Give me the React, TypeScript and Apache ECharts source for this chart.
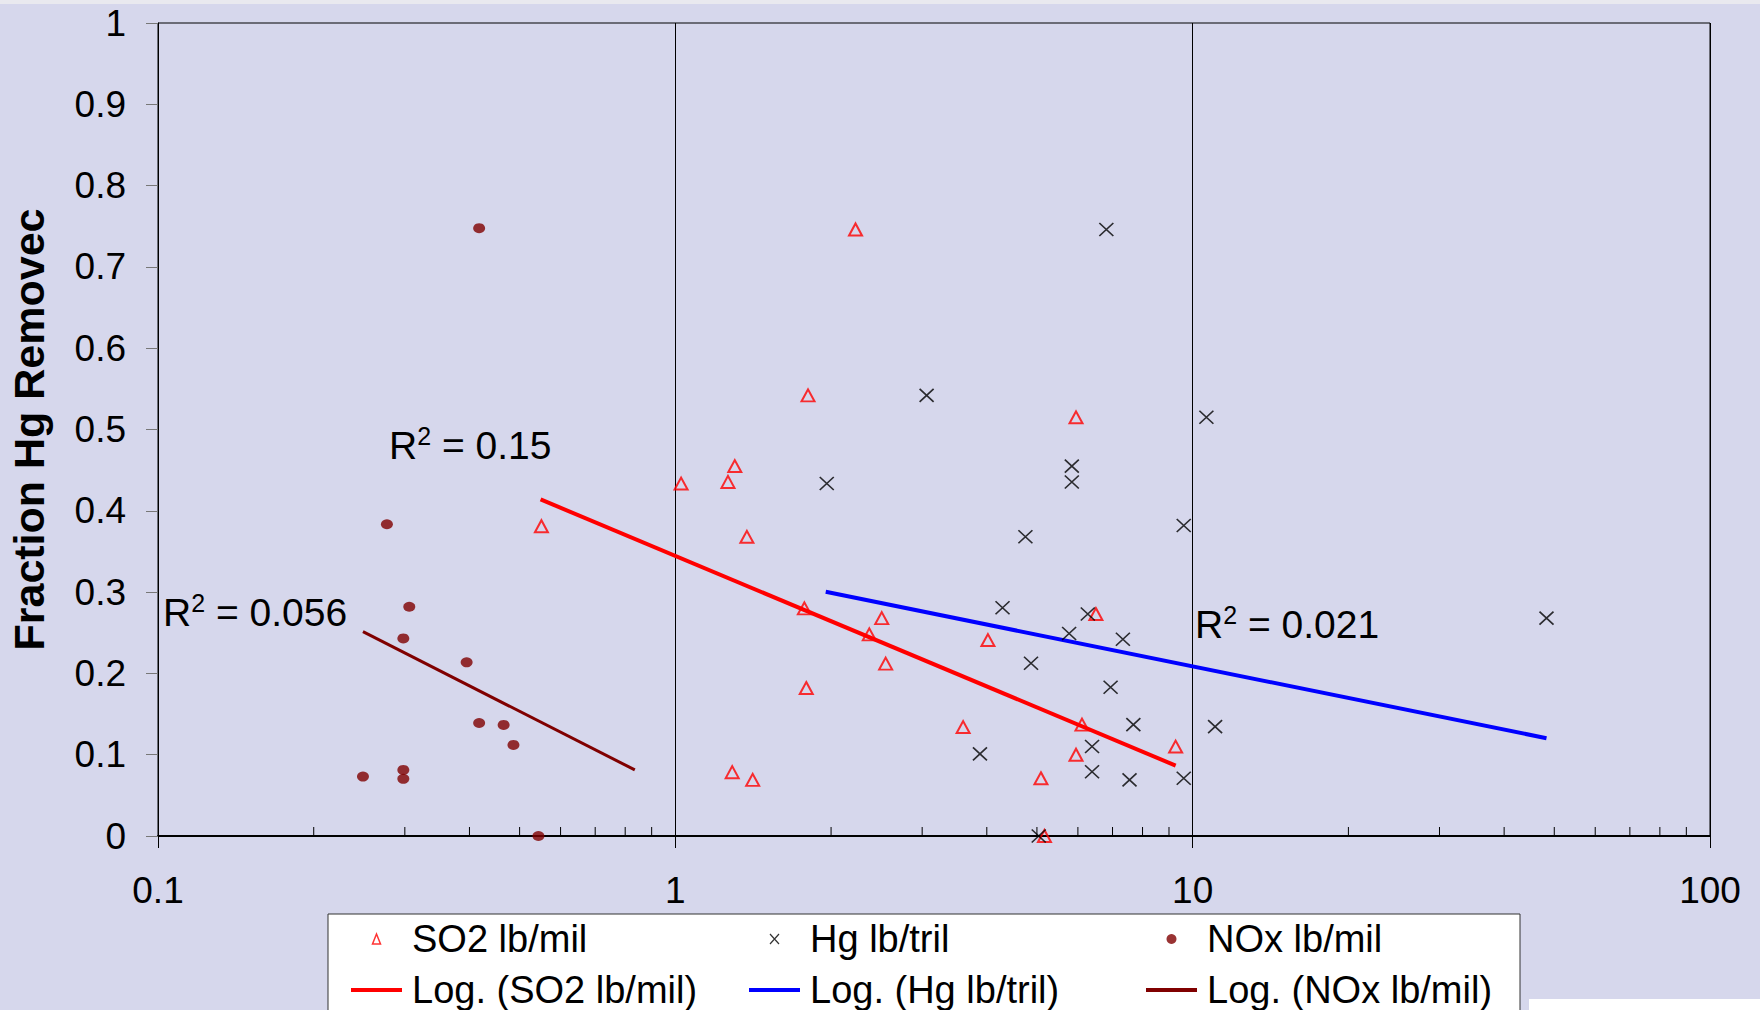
import React, { useEffect, useRef } from "react";
import * as echarts from "echarts";

const FONT = '"Liberation Sans", Arial, Helvetica, sans-serif';

// SO2 lb/mil (red open triangles)
const so2X = [2.23, 1.805, 5.95, 1.303, 1.026, 1.264, 1.375, 0.551, 1.776, 2.506, 6.5, 2.371, 4.02, 2.55, 1.791, 3.6, 6.11, 5.95, 9.27, 1.288, 1.411, 5.09, 5.17];
const so2Y = [0.746, 0.542, 0.515, 0.455, 0.4335, 0.4355, 0.368, 0.381, 0.28, 0.268, 0.273, 0.248, 0.241, 0.212, 0.182, 0.134, 0.137, 0.1, 0.11, 0.0785, 0.069, 0.071, 0.0];

// Hg lb/tril (black x)
const hgX = [6.81, 3.06, 10.63, 5.84, 5.84, 1.962, 4.75, 9.61, 4.29, 6.27, 48.3, 5.77, 7.33, 4.87, 6.94, 7.68, 11.05, 3.88, 6.39, 6.39, 7.55, 9.61, 5.04];
const hgY = [0.746, 0.542, 0.515, 0.455, 0.4355, 0.4335, 0.368, 0.382, 0.2807, 0.273, 0.268, 0.249, 0.242, 0.2125, 0.183, 0.137, 0.1345, 0.101, 0.11, 0.079, 0.069, 0.071, 0.0];

// NOx lb/mil (dark red dots)
const noxX = [0.4176, 0.277, 0.306, 0.298, 0.395, 0.4176, 0.4657, 0.4865, 0.249, 0.298, 0.298, 0.5437];
const noxY = [0.7476, 0.3835, 0.282, 0.243, 0.2136, 0.139, 0.1366, 0.112, 0.0731, 0.0813, 0.0703, 0.0];

// Logarithmic trendlines (straight on a log x axis): end points
const so2TrendX = [0.549, 9.27];
const so2TrendY = [0.414, 0.0866];
const hgTrendX = [1.953, 48.3];
const hgTrendY = [0.3004, 0.1203];
const noxTrendX = [0.249, 0.835];
const noxTrendY = [0.2513, 0.0813];

// Minor tick positions on the log x axis
const minorTickValues = [0.2, 0.3, 0.4, 0.5, 0.6, 0.7, 0.8, 0.9, 2, 3, 4, 5, 6, 7, 8, 9, 20, 30, 40, 50, 60, 70, 80, 90];

// R² annotations
const r2Labels = ["0.15", "0.056", "0.021"];

const zip = (xs: number[], ys: number[]) => xs.map((x, i) => [x, ys[i]]);

const BG = "#D6D7EC";
const BAR_ICON = "path://M0,0L51,0L51,4L0,4Z";
const TRI_ICON = "path://M4,0L8,10L0,10Z";
const X_ICON = "path://M0,0L9,10M9,0L0,10";

export default function App() {
  const ref = useRef<HTMLDivElement>(null);

  useEffect(() => {
    document.body.style.margin = "0";
    if (!ref.current) return;
    const chart = echarts.init(ref.current, null, { renderer: "svg" });

    const legendText = {
      fontSize: 38,
      fontFamily: FONT,
      color: "#000",
      lineHeight: 42,
      padding: [0, 0, 0, 5],
    };
    const legendBase = {
      orient: "vertical",
      top: 918,
      height: 160,
      padding: 0,
      itemGap: 9,
      itemWidth: 51,
      itemHeight: 10,
      selectedMode: false,
      symbolKeepAspect: true,
      textStyle: legendText,
      z: 4,
    };

    const r2Rich = {
      r: { fontSize: 39, fontFamily: FONT, fill: "#000", verticalAlign: "bottom", lineHeight: 42 },
      s: { fontSize: 25, fontFamily: FONT, fill: "#000", verticalAlign: "top", lineHeight: 25 },
    };
    const r2Pos = [
      [389, 423],
      [163, 590],
      [1195, 602],
    ];

    const option: any = {
      animation: false,
      backgroundColor: BG,
      grid: {
        left: 158,
        right: 50,
        top: 23,
        bottom: 174,
        show: true,
        backgroundColor: BG,
        borderColor: "#000",
        borderWidth: 1,
        containLabel: false,
        outerBoundsMode: "none",
      },
      xAxis: {
        type: "log",
        logBase: 10,
        min: 0.1,
        max: 100,
        axisLine: { show: true, onZero: false, lineStyle: { color: "#000", width: 2 } },
        axisTick: { show: true, length: 12, lineStyle: { color: "#000", width: 1 } },
        minorTick: { show: false },
        axisLabel: {
          fontSize: 37,
          fontFamily: FONT,
          color: "#000",
          margin: 36,
          formatter: (v: number) => String(+Number(v).toPrecision(6)),
        },
        splitLine: { show: true, lineStyle: { color: "#000", width: 1 } },
      },
      yAxis: {
        type: "value",
        min: 0,
        max: 1,
        interval: 0.1,
        name: "Fraction Hg Removec",
        nameLocation: "middle",
        nameGap: 108,
        nameTextStyle: { fontSize: 43, fontWeight: "bold", fontFamily: FONT, color: "#000" },
        axisLine: { show: true, onZero: false, lineStyle: { color: "#000", width: 1 } },
        axisTick: { show: true, length: 12, lineStyle: { color: "#777", width: 1 } },
        axisLabel: {
          fontSize: 37,
          fontFamily: FONT,
          color: "#000",
          margin: 32,
          formatter: (v: number) => String(+Number(v).toFixed(1)),
        },
        splitLine: { show: false },
      },
      legend: [
        {
          ...legendBase,
          left: 351,
          data: [
            { name: "SO2 lb/mil", icon: TRI_ICON, itemStyle: { color: "transparent", borderColor: "#FF0000", borderWidth: 1.5 } },
            { name: "Log. (SO2 lb/mil)", icon: BAR_ICON, itemStyle: { color: "#FF0000", borderWidth: 0 } },
          ],
        },
        {
          ...legendBase,
          left: 749,
          data: [
            { name: "Hg lb/tril", icon: X_ICON, itemStyle: { color: "transparent", borderColor: "#000", borderWidth: 1.2 } },
            { name: "Log. (Hg lb/tril)", icon: BAR_ICON, itemStyle: { color: "#0000FF", borderWidth: 0 } },
          ],
        },
        {
          ...legendBase,
          left: 1146,
          data: [
            { name: "NOx lb/mil", icon: "circle", itemStyle: { color: "#800000", borderWidth: 0 } },
            { name: "Log. (NOx lb/mil)", icon: BAR_ICON, itemStyle: { color: "#800000", borderWidth: 0 } },
          ],
        },
      ],
      graphic: [
        { type: "rect", z: 1, silent: true, shape: { x: 0, y: 0, width: 1760, height: 4 }, style: { fill: "#E9E9EF" } },
        { type: "rect", z: 1, silent: true, shape: { x: 328, y: 914, width: 1192, height: 120 }, style: { fill: "#FFFFFF", stroke: "#333", lineWidth: 1 } },
        { type: "rect", z: 1, silent: true, shape: { x: 1529, y: 999, width: 231, height: 11 }, style: { fill: "#FFFFFF" } },
        ...r2Labels.map((t, i) => ({
          type: "text",
          z: 6,
          silent: true,
          x: r2Pos[i][0],
          y: r2Pos[i][1],
          style: {
            text: `{r|R}{s|2}{r| = ${t}}`,
            rich: r2Rich,
            verticalAlign: "top",
            align: "left",
          },
        })),
      ],
      series: [
        {
          name: "minor ticks",
          type: "custom",
          silent: true,
          clip: false,
          z: 3,
          data: minorTickValues.map((v) => [v, 0]),
          renderItem: (_params: any, api: any) => {
            const p = api.coord([api.value(0), 0]);
            return {
              type: "line",
              shape: { x1: p[0], y1: p[1], x2: p[0], y2: p[1] - 9 },
              style: { stroke: "#000", lineWidth: 1 },
            };
          },
        },
        {
          name: "Log. (SO2 lb/mil)",
          type: "line",
          data: zip(so2TrendX, so2TrendY),
          symbol: "none",
          silent: true,
          lineStyle: { color: "#FF0000", width: 4 },
          itemStyle: { color: "#FF0000" },
          z: 2,
        },
        {
          name: "Log. (Hg lb/tril)",
          type: "line",
          data: zip(hgTrendX, hgTrendY),
          symbol: "none",
          silent: true,
          lineStyle: { color: "#0000FF", width: 4 },
          itemStyle: { color: "#0000FF" },
          z: 2,
        },
        {
          name: "Log. (NOx lb/mil)",
          type: "line",
          data: zip(noxTrendX, noxTrendY),
          symbol: "none",
          silent: true,
          lineStyle: { color: "#800000", width: 3 },
          itemStyle: { color: "#800000" },
          z: 2,
        },
        {
          name: "SO2 lb/mil",
          type: "scatter",
          data: zip(so2X, so2Y),
          symbol: "triangle",
          symbolSize: [13, 12],
          itemStyle: { color: "transparent", borderColor: "#FF0000", borderWidth: 2 },
          z: 3,
        },
        {
          name: "Hg lb/tril",
          type: "scatter",
          data: zip(hgX, hgY),
          symbol: "path://M0,0L10,10M10,0L0,10",
          symbolSize: [14, 13],
          itemStyle: { color: "transparent", borderColor: "#000", borderWidth: 1.6 },
          z: 3,
        },
        {
          name: "NOx lb/mil",
          type: "scatter",
          data: zip(noxX, noxY),
          symbol: "circle",
          symbolSize: [12, 10],
          itemStyle: { color: "#800000" },
          z: 3,
        },
      ],
    };

    chart.setOption(option);
    return () => chart.dispose();
  }, []);

  return <div ref={ref} style={{ width: 1760, height: 1010 }} />;
}
